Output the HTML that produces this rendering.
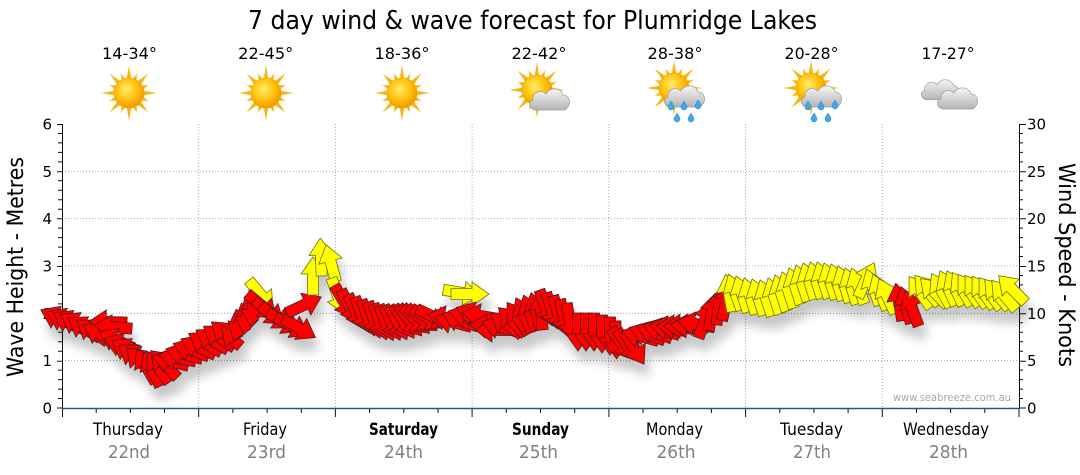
<!DOCTYPE html>
<html><head><meta charset="utf-8"><style>
html,body{margin:0;padding:0;background:#fff;}
svg{display:block;font-family:"DejaVu Sans","Liberation Sans",sans-serif;}
.r{fill:#ff0000;stroke:#4a2020;stroke-width:0.8;stroke-linejoin:miter}
.y{fill:#ffff00;stroke:#707010;stroke-width:0.8}
</style></head><body>
<svg width="1080" height="475" viewBox="0 0 1080 475" xmlns="http://www.w3.org/2000/svg" xmlns:xlink="http://www.w3.org/1999/xlink">
<defs>
<radialGradient id="sunG" cx="0.42" cy="0.38" r="0.65"><stop offset="0" stop-color="#ffec6a"/><stop offset="0.55" stop-color="#ffc20a"/><stop offset="1" stop-color="#f09400"/></radialGradient>
<linearGradient id="clG" x1="0" y1="0" x2="0" y2="1"><stop offset="0" stop-color="#f6f6f6"/><stop offset="1" stop-color="#b4b4b4"/></linearGradient>
<g id="sun">
<g fill="#f6b51c" stroke="#f9d66a" stroke-width="0.5">
<polygon points="0,-27 2.6,-13 -2.6,-13"/>
<polygon points="0,-27 2.6,-13 -2.6,-13" transform="rotate(45)"/>
<polygon points="0,-27 2.6,-13 -2.6,-13" transform="rotate(90)"/>
<polygon points="0,-27 2.6,-13 -2.6,-13" transform="rotate(135)"/>
<polygon points="0,-27 2.6,-13 -2.6,-13" transform="rotate(180)"/>
<polygon points="0,-27 2.6,-13 -2.6,-13" transform="rotate(225)"/>
<polygon points="0,-27 2.6,-13 -2.6,-13" transform="rotate(270)"/>
<polygon points="0,-27 2.6,-13 -2.6,-13" transform="rotate(315)"/>
<polygon points="0,-21 2.4,-13 -2.4,-13" transform="rotate(22.5)"/>
<polygon points="0,-21 2.4,-13 -2.4,-13" transform="rotate(67.5)"/>
<polygon points="0,-21 2.4,-13 -2.4,-13" transform="rotate(112.5)"/>
<polygon points="0,-21 2.4,-13 -2.4,-13" transform="rotate(157.5)"/>
<polygon points="0,-21 2.4,-13 -2.4,-13" transform="rotate(202.5)"/>
<polygon points="0,-21 2.4,-13 -2.4,-13" transform="rotate(247.5)"/>
<polygon points="0,-21 2.4,-13 -2.4,-13" transform="rotate(292.5)"/>
<polygon points="0,-21 2.4,-13 -2.4,-13" transform="rotate(337.5)"/>
</g>
<circle r="15" fill="url(#sunG)" stroke="#eea400" stroke-width="0.6"/>
</g>
<path id="cl" d="M9,24 C2,24 0,16 6,14 C5,6 14,3 19,8 C22,1 34,1 36,9 C42,9 45,17 40,22 C39,23.5 38,24 36,24 Z" fill="url(#clG)" stroke="#9a9a9a" stroke-width="0.7"/>
<path id="dr" d="M0,-4 C2,-1 3,1 3,2 A3,3 0 0 1 -3,2 C-3,1 -2,-1 0,-4Z" fill="#40aae8" stroke="#1f80c0" stroke-width="0.5"/>
<path id="ar" d="M-19,-5.5 L2,-5.5 L2,-12 L19,0 L2,12 L2,5.5 L-19,5.5 Z"/>
<filter id="sh" x="-5%" y="-30%" width="115%" height="180%">
<feGaussianBlur in="SourceAlpha" stdDeviation="5"/>
<feOffset dx="4" dy="12" result="o"/>
<feComponentTransfer><feFuncA type="linear" slope="0.22"/></feComponentTransfer>
<feMerge><feMergeNode/><feMergeNode in="SourceGraphic"/></feMerge>
</filter>
</defs>
<rect width="1080" height="475" fill="#fff"/>

<text x="248" y="29" font-size="26" textLength="569" lengthAdjust="spacingAndGlyphs" fill="#000">7 day wind &amp; wave forecast for Plumridge Lakes</text>

<g font-size="16" fill="#000" text-anchor="middle">
<text x="129.5" y="59" textLength="55" lengthAdjust="spacingAndGlyphs">14-34°</text>
<text x="265.7" y="59" textLength="55" lengthAdjust="spacingAndGlyphs">22-45°</text>
<text x="402" y="59" textLength="55" lengthAdjust="spacingAndGlyphs">18-36°</text>
<text x="539" y="59" textLength="55" lengthAdjust="spacingAndGlyphs">22-42°</text>
<text x="675" y="59" textLength="55" lengthAdjust="spacingAndGlyphs">28-38°</text>
<text x="811.5" y="59" textLength="54" lengthAdjust="spacingAndGlyphs">20-28°</text>
<text x="948" y="59" textLength="53" lengthAdjust="spacingAndGlyphs">17-27°</text>
</g>

<use href="#sun" xlink:href="#sun" transform="translate(129,93)"/>
<use href="#sun" xlink:href="#sun" transform="translate(266,93)"/>
<use href="#sun" xlink:href="#sun" transform="translate(402,93)"/>
<use href="#sun" xlink:href="#sun" transform="translate(537,90)"/>
<use href="#cl" xlink:href="#cl" transform="translate(527,86)"/>
<use href="#sun" xlink:href="#sun" transform="translate(674,88)"/>
<use href="#cl" xlink:href="#cl" transform="translate(662,83)"/>
<use href="#dr" xlink:href="#dr" transform="translate(671,105)"/>
<use href="#dr" xlink:href="#dr" transform="translate(684,105)"/>
<use href="#dr" xlink:href="#dr" transform="translate(698,104)"/>
<use href="#dr" xlink:href="#dr" transform="translate(677,117)"/>
<use href="#dr" xlink:href="#dr" transform="translate(691,117)"/>
<use href="#sun" xlink:href="#sun" transform="translate(811,88)"/>
<use href="#cl" xlink:href="#cl" transform="translate(799,83)"/>
<use href="#dr" xlink:href="#dr" transform="translate(808,105)"/>
<use href="#dr" xlink:href="#dr" transform="translate(821,105)"/>
<use href="#dr" xlink:href="#dr" transform="translate(835,104)"/>
<use href="#dr" xlink:href="#dr" transform="translate(814,117)"/>
<use href="#dr" xlink:href="#dr" transform="translate(828,117)"/>
<use href="#cl" xlink:href="#cl" transform="translate(919,77) scale(0.95)"/>
<use href="#cl" xlink:href="#cl" transform="translate(935,85)"/>

<g stroke="#a8a8a8" stroke-width="1" stroke-dasharray="1,2" fill="none">
<path d="M62,360.67H1019M62,313.33H1019M62,266H1019M62,218.67H1019M62,171.33H1019"/>
<path d="M198.71,124V408M335.43,124V408M472.14,124V408M608.86,124V408M745.57,124V408M882.29,124V408"/>
</g>

<g stroke="#111" stroke-width="1" fill="none">
<path d="M62.5,124V408M1019.5,124V408"/>
<path d="M57,124.5H62M57,171.8H62M57,218.7H62M57,266.5H62M57,313.8H62M57,361.2H62M57,408H62"/>
<path d="M58,133.5H62M58,142.9H62M58,152.4H62M58,161.9H62M58,180.8H62M58,190.3H62M58,199.7H62M58,209.2H62M58,228.1H62M58,237.6H62M58,247.1H62M58,256.5H62M58,275.5H62M58,284.9H62M58,294.4H62M58,303.9H62M58,322.8H62M58,332.3H62M58,341.7H62M58,351.2H62M58,370.1H62M58,379.6H62M58,389.1H62M58,398.5H62"/>
<path d="M1019,124.5H1026M1019,171.8H1026M1019,218.7H1026M1019,266.5H1026M1019,313.8H1026M1019,361.2H1026M1019,408H1026"/>
<path d="M1019,133.5H1023M1019,142.9H1023M1019,152.4H1023M1019,161.9H1023M1019,180.8H1023M1019,190.3H1023M1019,199.7H1023M1019,209.2H1023M1019,228.1H1023M1019,237.6H1023M1019,247.1H1023M1019,256.5H1023M1019,275.5H1023M1019,284.9H1023M1019,294.4H1023M1019,303.9H1023M1019,322.8H1023M1019,332.3H1023M1019,341.7H1023M1019,351.2H1023M1019,370.1H1023M1019,379.6H1023M1019,389.1H1023M1019,398.5H1023"/>
<path d="M62.5,408V417M198.7,408V417M335.4,408V417M472.1,408V417M608.9,408V417M745.6,408V417M882.3,408V417M1019,408V417"/>
<path d="M96.2,408V413M130.4,408V413M164.5,408V413M232.9,408V413M267.1,408V413M301.3,408V413M369.6,408V413M403.8,408V413M438,408V413M506.3,408V413M540.5,408V413M574.7,408V413M643,408V413M677.2,408V413M711.4,408V413M779.8,408V413M813.9,408V413M848.1,408V413M916.5,408V413M950.6,408V413M984.8,408V413"/>
</g>
<path d="M62,408.5H1019" stroke="#1c5a85" stroke-width="1.5"/>

<g font-size="15" fill="#000" text-anchor="end">
<text x="52" y="413.5">0</text>
<text x="52" y="366">1</text>
<text x="52" y="318.8">2</text>
<text x="52" y="271.5">3</text>
<text x="52" y="224.2">4</text>
<text x="52" y="176.8">5</text>
<text x="52" y="129.5">6</text>
</g>
<g font-size="15" fill="#000">
<text x="1027" y="413.5">0</text>
<text x="1027" y="366">5</text>
<text x="1027" y="318.8">10</text>
<text x="1027" y="271.5">15</text>
<text x="1027" y="224.2">20</text>
<text x="1027" y="176.8">25</text>
<text x="1027" y="129.5">30</text>
</g>

<text transform="translate(23,267) rotate(-90)" font-size="22" text-anchor="middle" textLength="220" lengthAdjust="spacingAndGlyphs" fill="#000">Wave Height - Metres</text>
<text transform="translate(1059,265) rotate(90)" font-size="22" text-anchor="middle" textLength="204" lengthAdjust="spacingAndGlyphs" fill="#000">Wind Speed - Knots</text>

<g font-size="17" fill="#000" text-anchor="middle">
<text x="128" y="435" textLength="70" lengthAdjust="spacingAndGlyphs">Thursday</text>
<text x="265" y="435" textLength="44" lengthAdjust="spacingAndGlyphs">Friday</text>
<text x="403.5" y="435" textLength="69" lengthAdjust="spacingAndGlyphs" font-weight="bold">Saturday</text>
<text x="540.5" y="435" textLength="57" lengthAdjust="spacingAndGlyphs" font-weight="bold">Sunday</text>
<text x="674.5" y="435" textLength="57" lengthAdjust="spacingAndGlyphs">Monday</text>
<text x="811.5" y="435" textLength="63" lengthAdjust="spacingAndGlyphs">Tuesday</text>
<text x="946" y="435" textLength="86" lengthAdjust="spacingAndGlyphs">Wednesday</text>
</g>
<g font-size="18" fill="#808080" text-anchor="middle">
<text x="129" y="458" textLength="42" lengthAdjust="spacingAndGlyphs">22nd</text>
<text x="266.5" y="458" textLength="39" lengthAdjust="spacingAndGlyphs">23rd</text>
<text x="403.5" y="458" textLength="39" lengthAdjust="spacingAndGlyphs">24th</text>
<text x="538.5" y="458" textLength="39" lengthAdjust="spacingAndGlyphs">25th</text>
<text x="676" y="458" textLength="39" lengthAdjust="spacingAndGlyphs">26th</text>
<text x="812" y="458" textLength="38" lengthAdjust="spacingAndGlyphs">27th</text>
<text x="948.5" y="458" textLength="39" lengthAdjust="spacingAndGlyphs">28th</text>
</g>

<text x="893" y="401" font-size="11" fill="#a8a8a8" textLength="118" lengthAdjust="spacingAndGlyphs">www.seabreeze.com.au</text>

<g filter="url(#sh)">
<use href="#ar" xlink:href="#ar" class="r" transform="translate(58,318) rotate(205)"/>
<use href="#ar" xlink:href="#ar" class="r" transform="translate(64,320) rotate(205)"/>
<use href="#ar" xlink:href="#ar" class="r" transform="translate(70,322) rotate(208)"/>
<use href="#ar" xlink:href="#ar" class="r" transform="translate(77,324) rotate(210)"/>
<use href="#ar" xlink:href="#ar" class="r" transform="translate(84,328) rotate(212)"/>
<use href="#ar" xlink:href="#ar" class="r" transform="translate(92,331) rotate(215)"/>
<use href="#ar" xlink:href="#ar" class="r" transform="translate(100,334) rotate(210)"/>
<use href="#ar" xlink:href="#ar" class="r" transform="translate(108,322) rotate(182)"/>
<use href="#ar" xlink:href="#ar" class="r" transform="translate(113,327) rotate(185)"/>
<use href="#ar" xlink:href="#ar" class="r" transform="translate(116,340) rotate(205)"/>
<use href="#ar" xlink:href="#ar" class="r" transform="translate(122,345) rotate(200)"/>
<use href="#ar" xlink:href="#ar" class="r" transform="translate(128,350) rotate(210)"/>
<use href="#ar" xlink:href="#ar" class="r" transform="translate(134,356) rotate(215)"/>
<use href="#ar" xlink:href="#ar" class="r" transform="translate(140,361) rotate(225)"/>
<use href="#ar" xlink:href="#ar" class="r" transform="translate(146,366) rotate(240)"/>
<use href="#ar" xlink:href="#ar" class="r" transform="translate(152,369) rotate(245)"/>
<use href="#ar" xlink:href="#ar" class="r" transform="translate(158,367) rotate(235)"/>
<use href="#ar" xlink:href="#ar" class="r" transform="translate(164,364) rotate(225)"/>
<use href="#ar" xlink:href="#ar" class="r" transform="translate(170,361) rotate(195)"/>
<use href="#ar" xlink:href="#ar" class="r" transform="translate(177,358) rotate(190)"/>
<use href="#ar" xlink:href="#ar" class="r" transform="translate(184,354) rotate(195)"/>
<use href="#ar" xlink:href="#ar" class="r" transform="translate(191,350) rotate(200)"/>
<use href="#ar" xlink:href="#ar" class="r" transform="translate(198,347) rotate(205)"/>
<use href="#ar" xlink:href="#ar" class="r" transform="translate(205,343) rotate(210)"/>
<use href="#ar" xlink:href="#ar" class="r" transform="translate(212,340) rotate(212)"/>
<use href="#ar" xlink:href="#ar" class="r" transform="translate(219,337) rotate(215)"/>
<use href="#ar" xlink:href="#ar" class="r" transform="translate(226,334) rotate(220)"/>
<use href="#ar" xlink:href="#ar" class="r" transform="translate(233,329) rotate(115)"/>
<use href="#ar" xlink:href="#ar" class="r" transform="translate(240,323) rotate(110)"/>
<use href="#ar" xlink:href="#ar" class="r" transform="translate(247,316) rotate(100)"/>
<use href="#ar" xlink:href="#ar" class="r" transform="translate(253,308) rotate(95)"/>
<use href="#ar" xlink:href="#ar" class="y" transform="translate(261,295) rotate(50)"/>
<use href="#ar" xlink:href="#ar" class="r" transform="translate(262,306) rotate(40)"/>
<use href="#ar" xlink:href="#ar" class="r" transform="translate(269,312) rotate(38)"/>
<use href="#ar" xlink:href="#ar" class="r" transform="translate(276,317) rotate(35)"/>
<use href="#ar" xlink:href="#ar" class="r" transform="translate(284,322) rotate(30)"/>
<use href="#ar" xlink:href="#ar" class="r" transform="translate(292,326) rotate(28)"/>
<use href="#ar" xlink:href="#ar" class="r" transform="translate(299,328) rotate(30)"/>
<use href="#ar" xlink:href="#ar" class="r" transform="translate(304,305) rotate(-25)"/>
<use href="#ar" xlink:href="#ar" class="y" transform="translate(313,276) rotate(-90)"/>
<use href="#ar" xlink:href="#ar" class="y" transform="translate(321,257) rotate(-92)"/>
<use href="#ar" xlink:href="#ar" class="y" transform="translate(331,263) rotate(-105)"/>
<use href="#ar" xlink:href="#ar" class="y" transform="translate(338,296) rotate(70)"/>
<use href="#ar" xlink:href="#ar" class="r" transform="translate(344,302) rotate(60)"/>
<use href="#ar" xlink:href="#ar" class="r" transform="translate(350,307) rotate(62)"/>
<use href="#ar" xlink:href="#ar" class="r" transform="translate(356,312) rotate(65)"/>
<use href="#ar" xlink:href="#ar" class="r" transform="translate(362,315) rotate(68)"/>
<use href="#ar" xlink:href="#ar" class="r" transform="translate(368,318) rotate(70)"/>
<use href="#ar" xlink:href="#ar" class="r" transform="translate(374,320) rotate(72)"/>
<use href="#ar" xlink:href="#ar" class="r" transform="translate(380,322) rotate(70)"/>
<use href="#ar" xlink:href="#ar" class="r" transform="translate(386,323) rotate(68)"/>
<use href="#ar" xlink:href="#ar" class="r" transform="translate(392,323) rotate(65)"/>
<use href="#ar" xlink:href="#ar" class="r" transform="translate(398,323) rotate(62)"/>
<use href="#ar" xlink:href="#ar" class="r" transform="translate(404,322) rotate(58)"/>
<use href="#ar" xlink:href="#ar" class="r" transform="translate(410,321) rotate(52)"/>
<use href="#ar" xlink:href="#ar" class="r" transform="translate(416,320) rotate(45)"/>
<use href="#ar" xlink:href="#ar" class="r" transform="translate(422,319) rotate(38)"/>
<use href="#ar" xlink:href="#ar" class="r" transform="translate(428,318) rotate(30)"/>
<use href="#ar" xlink:href="#ar" class="r" transform="translate(434,317) rotate(25)"/>
<use href="#ar" xlink:href="#ar" class="r" transform="translate(446,318) rotate(190)"/>
<use href="#ar" xlink:href="#ar" class="r" transform="translate(453,322) rotate(195)"/>
<use href="#ar" xlink:href="#ar" class="y" transform="translate(462,293) rotate(10)"/>
<use href="#ar" xlink:href="#ar" class="y" transform="translate(470,294) rotate(0)"/>
<use href="#ar" xlink:href="#ar" class="r" transform="translate(460,320) rotate(200)"/>
<use href="#ar" xlink:href="#ar" class="r" transform="translate(467,316) rotate(195)"/>
<use href="#ar" xlink:href="#ar" class="r" transform="translate(474,314) rotate(200)"/>
<use href="#ar" xlink:href="#ar" class="r" transform="translate(481,316) rotate(190)"/>
<use href="#ar" xlink:href="#ar" class="r" transform="translate(488,326) rotate(185)"/>
<use href="#ar" xlink:href="#ar" class="r" transform="translate(494,330) rotate(180)"/>
<use href="#ar" xlink:href="#ar" class="r" transform="translate(500,327) rotate(195)"/>
<use href="#ar" xlink:href="#ar" class="r" transform="translate(506,324) rotate(215)"/>
<use href="#ar" xlink:href="#ar" class="r" transform="translate(512,321) rotate(225)"/>
<use href="#ar" xlink:href="#ar" class="r" transform="translate(518,318) rotate(235)"/>
<use href="#ar" xlink:href="#ar" class="r" transform="translate(524,315) rotate(245)"/>
<use href="#ar" xlink:href="#ar" class="r" transform="translate(530,313) rotate(250)"/>
<use href="#ar" xlink:href="#ar" class="r" transform="translate(536,311) rotate(255)"/>
<use href="#ar" xlink:href="#ar" class="r" transform="translate(541,311) rotate(265)"/>
<use href="#ar" xlink:href="#ar" class="r" transform="translate(546,308) rotate(70)"/>
<use href="#ar" xlink:href="#ar" class="r" transform="translate(552,311) rotate(72)"/>
<use href="#ar" xlink:href="#ar" class="r" transform="translate(558,314) rotate(75)"/>
<use href="#ar" xlink:href="#ar" class="r" transform="translate(564,318) rotate(78)"/>
<use href="#ar" xlink:href="#ar" class="r" transform="translate(570,322) rotate(80)"/>
<use href="#ar" xlink:href="#ar" class="r" transform="translate(578,332) rotate(90)"/>
<use href="#ar" xlink:href="#ar" class="r" transform="translate(586,332) rotate(90)"/>
<use href="#ar" xlink:href="#ar" class="r" transform="translate(594,332) rotate(90)"/>
<use href="#ar" xlink:href="#ar" class="r" transform="translate(602,334) rotate(90)"/>
<use href="#ar" xlink:href="#ar" class="r" transform="translate(610,336) rotate(90)"/>
<use href="#ar" xlink:href="#ar" class="r" transform="translate(616,340) rotate(88)"/>
<use href="#ar" xlink:href="#ar" class="r" transform="translate(622,344) rotate(55)"/>
<use href="#ar" xlink:href="#ar" class="r" transform="translate(628,346) rotate(55)"/>
<use href="#ar" xlink:href="#ar" class="r" transform="translate(634,348) rotate(58)"/>
<use href="#ar" xlink:href="#ar" class="r" transform="translate(640,336) rotate(195)"/>
<use href="#ar" xlink:href="#ar" class="r" transform="translate(647,334) rotate(200)"/>
<use href="#ar" xlink:href="#ar" class="r" transform="translate(654,332) rotate(200)"/>
<use href="#ar" xlink:href="#ar" class="r" transform="translate(661,330) rotate(195)"/>
<use href="#ar" xlink:href="#ar" class="r" transform="translate(668,328) rotate(190)"/>
<use href="#ar" xlink:href="#ar" class="r" transform="translate(675,327) rotate(185)"/>
<use href="#ar" xlink:href="#ar" class="r" transform="translate(682,326) rotate(180)"/>
<use href="#ar" xlink:href="#ar" class="r" transform="translate(689,326) rotate(185)"/>
<use href="#ar" xlink:href="#ar" class="r" transform="translate(696,324) rotate(190)"/>
<use href="#ar" xlink:href="#ar" class="r" transform="translate(705,320) rotate(-70)"/>
<use href="#ar" xlink:href="#ar" class="r" transform="translate(712,312) rotate(-80)"/>
<use href="#ar" xlink:href="#ar" class="r" transform="translate(719,306) rotate(-82)"/>
<use href="#ar" xlink:href="#ar" class="r" transform="translate(726,302) rotate(-78)"/>
<use href="#ar" xlink:href="#ar" class="y" transform="translate(729,293) rotate(-100)"/>
<use href="#ar" xlink:href="#ar" class="y" transform="translate(735,292) rotate(-110)"/>
<use href="#ar" xlink:href="#ar" class="y" transform="translate(742,294) rotate(-108)"/>
<use href="#ar" xlink:href="#ar" class="y" transform="translate(750,296) rotate(-108)"/>
<use href="#ar" xlink:href="#ar" class="y" transform="translate(758,297) rotate(-108)"/>
<use href="#ar" xlink:href="#ar" class="y" transform="translate(766,298) rotate(-108)"/>
<use href="#ar" xlink:href="#ar" class="y" transform="translate(774,296) rotate(-108)"/>
<use href="#ar" xlink:href="#ar" class="y" transform="translate(781,293) rotate(-108)"/>
<use href="#ar" xlink:href="#ar" class="y" transform="translate(788,290) rotate(-108)"/>
<use href="#ar" xlink:href="#ar" class="y" transform="translate(795,286) rotate(-108)"/>
<use href="#ar" xlink:href="#ar" class="y" transform="translate(802,283) rotate(-108)"/>
<use href="#ar" xlink:href="#ar" class="y" transform="translate(809,281) rotate(-108)"/>
<use href="#ar" xlink:href="#ar" class="y" transform="translate(816,280) rotate(-108)"/>
<use href="#ar" xlink:href="#ar" class="y" transform="translate(823,280) rotate(-108)"/>
<use href="#ar" xlink:href="#ar" class="y" transform="translate(830,281) rotate(-108)"/>
<use href="#ar" xlink:href="#ar" class="y" transform="translate(837,282) rotate(-108)"/>
<use href="#ar" xlink:href="#ar" class="y" transform="translate(844,284) rotate(-108)"/>
<use href="#ar" xlink:href="#ar" class="y" transform="translate(851,286) rotate(-108)"/>
<use href="#ar" xlink:href="#ar" class="y" transform="translate(858,286) rotate(-110)"/>
<use href="#ar" xlink:href="#ar" class="y" transform="translate(866,280) rotate(-65)"/>
<use href="#ar" xlink:href="#ar" class="y" transform="translate(873,287) rotate(-110)"/>
<use href="#ar" xlink:href="#ar" class="y" transform="translate(880,292) rotate(-112)"/>
<use href="#ar" xlink:href="#ar" class="y" transform="translate(887,296) rotate(-115)"/>
<use href="#ar" xlink:href="#ar" class="r" transform="translate(899,302) rotate(-100)"/>
<use href="#ar" xlink:href="#ar" class="r" transform="translate(906,305) rotate(-105)"/>
<use href="#ar" xlink:href="#ar" class="r" transform="translate(912,308) rotate(-110)"/>
<use href="#ar" xlink:href="#ar" class="y" transform="translate(920,292) rotate(-125)"/>
<use href="#ar" xlink:href="#ar" class="y" transform="translate(927,290) rotate(-130)"/>
<use href="#ar" xlink:href="#ar" class="y" transform="translate(934,292) rotate(-135)"/>
<use href="#ar" xlink:href="#ar" class="y" transform="translate(941,290) rotate(-120)"/>
<use href="#ar" xlink:href="#ar" class="y" transform="translate(948,288) rotate(-115)"/>
<use href="#ar" xlink:href="#ar" class="y" transform="translate(955,288) rotate(-115)"/>
<use href="#ar" xlink:href="#ar" class="y" transform="translate(962,289) rotate(-120)"/>
<use href="#ar" xlink:href="#ar" class="y" transform="translate(969,290) rotate(-125)"/>
<use href="#ar" xlink:href="#ar" class="y" transform="translate(976,291) rotate(-125)"/>
<use href="#ar" xlink:href="#ar" class="y" transform="translate(983,292) rotate(-125)"/>
<use href="#ar" xlink:href="#ar" class="y" transform="translate(990,293) rotate(-125)"/>
<use href="#ar" xlink:href="#ar" class="y" transform="translate(997,294) rotate(-130)"/>
<use href="#ar" xlink:href="#ar" class="y" transform="translate(1004,295) rotate(-130)"/>
<use href="#ar" xlink:href="#ar" class="y" transform="translate(1012,289) rotate(-135)"/>
</g>
</svg>
</body></html>
